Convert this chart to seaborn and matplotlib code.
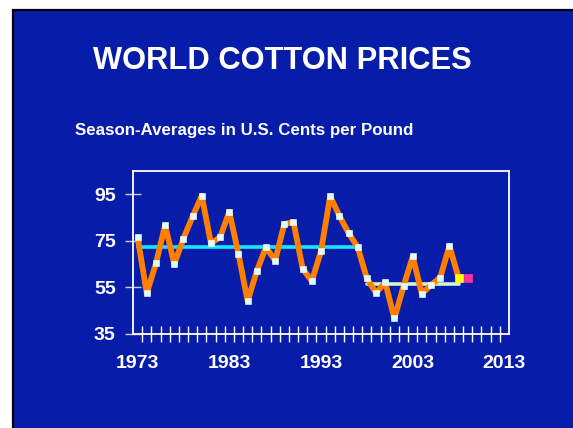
import numpy as np
import pandas as pd
import matplotlib
matplotlib.use("Agg")
import matplotlib.pyplot as plt
from matplotlib.patches import Rectangle
import seaborn as sns

# Season-average world cotton prices (U.S. cents per pound)
years = list(range(1973, 2009))
prices = [76.6, 52.5, 65.3, 81.7, 65.1, 76.0, 85.5, 94.4, 73.9, 76.6,
          87.5, 69.4, 49.2, 62.0, 72.3, 66.5, 82.3, 83.0, 63.1, 57.7,
          70.6, 94.2, 85.8, 78.4, 72.3, 58.9, 52.6, 57.2, 41.7, 55.5,
          68.3, 52.2, 56.1, 59.2, 72.8, 59.2]
estimate_year = [2008]
estimate_price = [59.2]
projection_year = [2009]
projection_price = [59.2]

# period averages
avg1_years = [1973, 1997]
avg1_value = [72.3, 72.3]
avg2_years = [1998, 2008]
avg2_value = [56.4, 56.4]

ytick_values = [35, 55, 75, 95]
xtick_values = [1973, 1983, 1993, 2003, 2013]

BLUE = "#071ca8"

sns.set_style("white")
plt.rcParams["font.family"] = ["Liberation Sans", "DejaVu Sans"]
plt.rcParams["font.weight"] = "bold"

fig = plt.figure(figsize=(5.73, 4.28), dpi=100, facecolor="white")

# slide background with black left/top border
fig.patches.append(Rectangle((13 / 573, -0.1), 1.2, 1.1 - 10 / 428,
                             transform=fig.transFigure, facecolor=BLUE,
                             edgecolor="black", linewidth=1.6, zorder=-10))

fig.text(282 / 573, 1 - 61 / 428, "WORLD COTTON PRICES", color="white",
         fontsize=22.2, fontweight="bold", ha="center", va="center")
fig.text(75 / 573, 1 - 131 / 428, "Season-Averages in U.S. Cents per Pound",
         color="white", fontsize=12.2, fontweight="bold", ha="left", va="center")

ax = fig.add_axes([133 / 573, 1 - 334 / 428, 376 / 573, 163 / 428])
ax.set_zorder(2)
ax.set_facecolor(BLUE)

df = pd.DataFrame({"year": years, "price": prices})
# thick body with round joins, thin miter line underneath gives the small spikes
sns.lineplot(data=df, x="year", y="price", ax=ax, color="#ff8000",
             linewidth=1.6, solid_joinstyle="miter", zorder=3)
sns.lineplot(data=df, x="year", y="price", ax=ax, color="#ff8000",
             linewidth=4.2, solid_joinstyle="round", zorder=3)
sns.lineplot(x=avg1_years, y=avg1_value, ax=ax, color="#18e6ff",
             linewidth=2.6, zorder=2)
sns.lineplot(x=avg2_years, y=avg2_value, ax=ax, color="#d2f5d0",
             linewidth=2.6, zorder=2)
sns.scatterplot(data=df.iloc[:-1], x="year", y="price", ax=ax, marker="s",
                s=14, color="#dcffff", edgecolor="white", linewidth=0.4, zorder=4)
sns.scatterplot(x=estimate_year, y=estimate_price, ax=ax, marker="s", s=36,
                color="#ffff00", edgecolor="#ffff00", linewidth=0.5, zorder=5)
sns.scatterplot(x=projection_year, y=projection_price, ax=ax, marker="s", s=36,
                color="#ff3399", edgecolor="#ff3399", linewidth=0.5, zorder=5)

ax.set_xlim(1972.5, 2013.5)
ax.set_ylim(35, 105)
ax.set_yticks(ytick_values)
ax.set_xticks(xtick_values)
ax.set_xticks(np.arange(1973.5, 2013, 1.0), minor=True)
ax.tick_params(axis="x", which="major", length=0, pad=15, labelsize=14,
               labelcolor="white")
ax.tick_params(axis="x", which="minor", direction="inout", length=11,
               width=1, color="white", bottom=True)
ax.tick_params(axis="y", which="major", direction="inout", length=11,
               width=1, color="#d0d0d0", pad=7, labelsize=14,
               labelcolor="white", left=True)
for lab in ax.get_xticklabels() + ax.get_yticklabels():
    lab.set_fontweight("bold")
ax.set_xlabel("")
ax.set_ylabel("")
for sp in ax.spines.values():
    sp.set_visible(True)
    sp.set_color("white")
    sp.set_linewidth(1.3)

fig.savefig("out.png", dpi=100, facecolor="white")
